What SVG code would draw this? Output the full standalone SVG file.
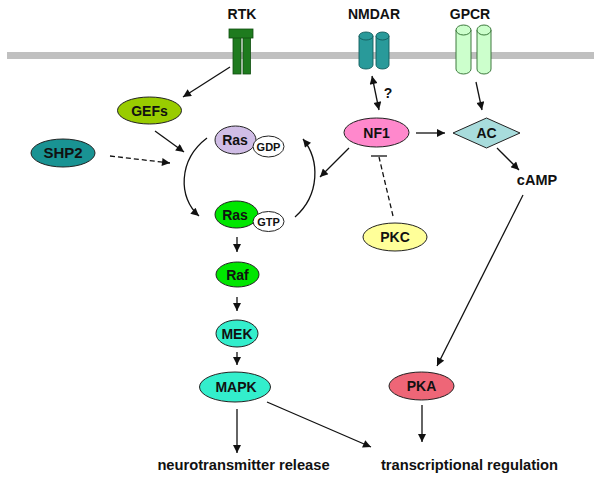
<svg xmlns="http://www.w3.org/2000/svg" width="602" height="483" viewBox="0 0 602 483">
<style>
text{font-family:"Liberation Sans",Arial,sans-serif;font-weight:bold;fill:#111;text-anchor:middle}
.lbl{font-size:14px}
.sm{font-size:11px}
.hdr{font-size:14px}
.big{font-size:14.7px}
.node{stroke:#222;stroke-width:1}
.edge{stroke:#111;stroke-width:1.3;fill:none}
.dash{stroke-dasharray:5,3}
</style>
<defs>
<marker id="ah" viewBox="0 0 10 10" refX="10" refY="5" markerUnits="userSpaceOnUse" markerWidth="9" markerHeight="8" orient="auto-start-reverse">
<path d="M0,0 L10,5 L0,10 z" fill="#111"/>
</marker>
</defs>
<rect x="7" y="52" width="587" height="7" fill="#c0c0c0"/>

<g id="RTK">
<text class="hdr" x="242" y="19">RTK</text>
<rect x="233" y="37" width="8" height="37" fill="#1e7b1e" stroke="#0f4f0f" stroke-width="0.8"/>
<rect x="243" y="37" width="7.5" height="37" fill="#1e7b1e" stroke="#0f4f0f" stroke-width="0.8"/>
<rect x="229" y="29" width="24" height="9" fill="#1e7b1e" stroke="#0f4f0f" stroke-width="0.8"/>
</g>

<g id="NMDAR">
<text class="hdr" x="374" y="19">NMDAR</text>
<path d="M359,36 v29 a7,4 0 0 0 14,0 v-29 z" fill="#299a9a" stroke="#135c5c" stroke-width="0.9"/>
<ellipse cx="366" cy="36" rx="7" ry="4" fill="#299a9a" stroke="#135c5c" stroke-width="0.9"/>
<path d="M376,36 v29 a6.5,4 0 0 0 13,0 v-29 z" fill="#299a9a" stroke="#135c5c" stroke-width="0.9"/>
<ellipse cx="382.5" cy="36" rx="6.5" ry="4" fill="#299a9a" stroke="#135c5c" stroke-width="0.9"/>
</g>

<g id="GPCR">
<text class="hdr" x="470" y="19">GPCR</text>
<path d="M456,30 v39 a7.5,5 0 0 0 15,0 v-39 z" fill="#ccffcc" stroke="#2a6a2a" stroke-width="0.9"/>
<ellipse cx="463.5" cy="30" rx="7.5" ry="5" fill="#ccffcc" stroke="#2a6a2a" stroke-width="0.9"/>
<path d="M477,30 v39 a7,5 0 0 0 14,0 v-39 z" fill="#ccffcc" stroke="#2a6a2a" stroke-width="0.9"/>
<ellipse cx="484" cy="30" rx="7" ry="5" fill="#ccffcc" stroke="#2a6a2a" stroke-width="0.9"/>
</g>

<g id="connectors">
<line class="edge" x1="230" y1="67" x2="183" y2="97" marker-end="url(#ah)"/>
<line class="edge" x1="372" y1="76" x2="379" y2="110" marker-start="url(#ah)" marker-end="url(#ah)"/>
<text class="lbl" x="388" y="98">?</text>
<line class="edge" x1="476" y1="82" x2="482" y2="110" marker-end="url(#ah)"/>
<line class="edge" x1="155" y1="131" x2="184" y2="152" marker-end="url(#ah)"/>
<line class="edge dash" x1="110" y1="156" x2="170" y2="163" marker-end="url(#ah)"/>
<path class="edge" d="M207,138 C178,160 178,198 199,216" marker-end="url(#ah)"/>
<path class="edge" d="M295,217 C320,195 320,160 303,139" marker-end="url(#ah)"/>
<line class="edge" x1="349" y1="148" x2="320" y2="177" marker-end="url(#ah)"/>
<line class="edge" x1="416" y1="133" x2="445" y2="133" marker-end="url(#ah)"/>
<line class="edge" x1="497" y1="148" x2="519" y2="170" marker-end="url(#ah)"/>
<line class="edge dash" x1="393" y1="216" x2="379" y2="157"/>
<line class="edge" x1="371" y1="156" x2="387" y2="156"/>
<line class="edge" x1="523" y1="195" x2="437" y2="366" marker-end="url(#ah)"/>
<line class="edge" x1="237" y1="237" x2="237" y2="252" marker-end="url(#ah)"/>
<line class="edge" x1="237" y1="297" x2="237" y2="311" marker-end="url(#ah)"/>
<line class="edge" x1="237" y1="352" x2="237" y2="365" marker-end="url(#ah)"/>
<line class="edge" x1="237" y1="409" x2="237" y2="453" marker-end="url(#ah)"/>
<line class="edge" x1="267" y1="402" x2="371" y2="447" marker-end="url(#ah)"/>
<line class="edge" x1="422" y1="405" x2="422" y2="442" marker-end="url(#ah)"/>
</g>

<g id="GEFs">
<ellipse class="node" cx="149.5" cy="110.5" rx="32" ry="13.5" fill="#99cc00"/>
<text class="lbl" x="149.5" y="115.5">GEFs</text>
</g>
<g id="SHP2">
<ellipse class="node" cx="63" cy="153" rx="32" ry="14" fill="#199393"/>
<text class="lbl" x="63" y="158" style="font-size:15px">SHP2</text>
</g>
<g id="RasGDP">
<ellipse class="node" cx="235.5" cy="140" rx="20.5" ry="14" fill="#d0bde6"/>
<text class="lbl" x="235" y="145">Ras</text>
<ellipse class="node" cx="268.5" cy="146.5" rx="15.5" ry="10.5" fill="#fff"/>
<text class="sm" x="268.5" y="150.5">GDP</text>
</g>
<g id="RasGTP">
<ellipse class="node" cx="236.5" cy="214.5" rx="21.5" ry="13.5" fill="#00e600"/>
<text class="lbl" x="235" y="219.5">Ras</text>
<ellipse class="node" cx="268.5" cy="221.5" rx="15.5" ry="10" fill="#fff"/>
<text class="sm" x="268.5" y="225.5">GTP</text>
</g>
<g id="NF1">
<ellipse class="node" cx="376.5" cy="132.5" rx="32.5" ry="14.5" fill="#ff88cc"/>
<text class="lbl" x="376.5" y="137.5">NF1</text>
</g>
<g id="AC">
<polygon class="node" points="453,133 486.5,118 520,133 486.5,148" fill="#a8dcdc"/>
<text class="lbl" x="486.5" y="138">AC</text>
</g>
<g id="cAMP">
<text class="lbl" x="537" y="185" style="font-size:14.5px">cAMP</text>
</g>
<g id="PKC">
<ellipse class="node" cx="395" cy="237" rx="32" ry="14" fill="#ffff99"/>
<text class="lbl" x="395" y="242">PKC</text>
</g>
<g id="Raf">
<ellipse class="node" cx="237.5" cy="274.5" rx="21.5" ry="12.5" fill="#00e600"/>
<text class="lbl" x="237.5" y="279.5">Raf</text>
</g>
<g id="MEK">
<ellipse class="node" cx="237" cy="333.5" rx="21" ry="13.5" fill="#33eecc"/>
<text class="lbl" x="237" y="338.5">MEK</text>
</g>
<g id="MAPK">
<ellipse class="node" cx="235" cy="387" rx="35.5" ry="15" fill="#33eecc"/>
<text class="lbl" x="236" y="392">MAPK</text>
</g>
<g id="PKA">
<ellipse class="node" cx="421.5" cy="386" rx="32.5" ry="14" fill="#ee6677"/>
<text class="lbl" x="421.5" y="391">PKA</text>
</g>
<g id="outputs">
<text class="big" x="243.5" y="470">neurotransmitter release</text>
<text class="big" x="469.5" y="470">transcriptional regulation</text>
</g>
</svg>
